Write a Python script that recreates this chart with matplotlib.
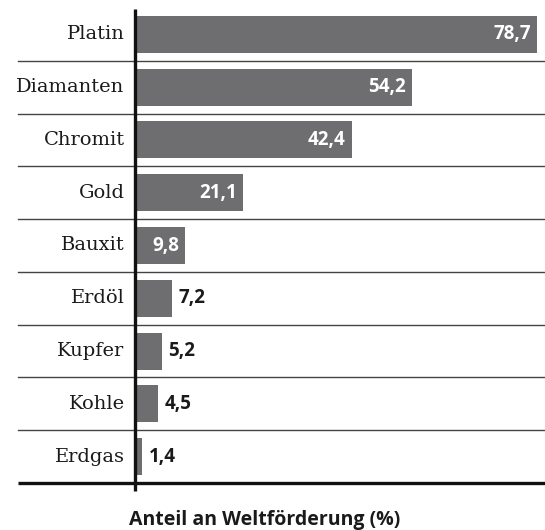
import matplotlib
matplotlib.use("Agg")
import matplotlib.pyplot as plt
from matplotlib.transforms import blended_transform_factory

categories = ["Platin", "Diamanten", "Chromit", "Gold", "Bauxit", "Erdöl", "Kupfer", "Kohle", "Erdgas"]
values = [78.7, 54.2, 42.4, 21.1, 9.8, 7.2, 5.2, 4.5, 1.4]
value_labels = ["78,7", "54,2", "42,4", "21,1", "9,8", "7,2", "5,2", "4,5", "1,4"]
xlabel = "Anteil an Weltförderung (%)"

W, H = 545, 530
fig = plt.figure(figsize=(W / 100, H / 100), dpi=100)
ax = fig.add_axes([135 / W, (H - 483) / H, (W - 135) / W, (483 - 8) / H])

bar_color = "#6e6e70"
ypos = list(range(len(categories)))
ax.barh(ypos, values, height=0.70, color=bar_color, zorder=2)
ax.set_xlim(0, 80.2)
ax.set_ylim(len(categories) - 0.5, -0.5)

for spine in ax.spines.values():
    spine.set_visible(False)
ax.set_xticks([])
ax.set_yticks([])

# category labels
for y, c in zip(ypos, categories):
    ax.annotate(c, xy=(0, y), xytext=(-7.5, 0), textcoords="offset points",
                ha="right", va="center", fontsize=14, family="DejaVu Serif",
                color="#1a1a1a", annotation_clip=False)

# value labels
for y, v, lab in zip(ypos, values, value_labels):
    if v >= 9:
        ax.annotate(lab, xy=(v, y), xytext=(-4.5, 0), textcoords="offset points",
                    ha="right", va="center", fontsize=13.5, family="Open Sans",
                    fontweight="bold", color="white", zorder=3)
    else:
        ax.annotate(lab, xy=(v, y), xytext=(5, 0), textcoords="offset points",
                    ha="left", va="center", fontsize=13.5, family="Open Sans",
                    fontweight="bold", color="#1a1a1a", zorder=3)

# separators between rows (extend into label area)
trans = blended_transform_factory(fig.transFigure, ax.transData)
for k in range(len(categories) - 1):
    ax.plot([18 / W, 1.0], [k + 0.5, k + 0.5], transform=trans, color="#444444",
            lw=1.0, clip_on=False, zorder=1)
# bottom thick line
ax.plot([18 / W, 1.0], [len(categories) - 0.5] * 2, transform=trans, color="#111111",
        lw=2.4, clip_on=False, zorder=4, solid_capstyle="butt")
# vertical axis line
ax.plot([0, 0], [-0.5 + 0.02, len(categories) - 0.5 + 8 / 52.75], color="#111111",
        lw=2.4, clip_on=False, zorder=4, solid_capstyle="butt")

fig.text(265 / W, 1 - 525 / H, xlabel, ha="center", va="baseline", fontsize=14,
         family="Open Sans", fontweight="bold", color="#1a1a1a")

fig.savefig("out.png", dpi=100, facecolor="white")
